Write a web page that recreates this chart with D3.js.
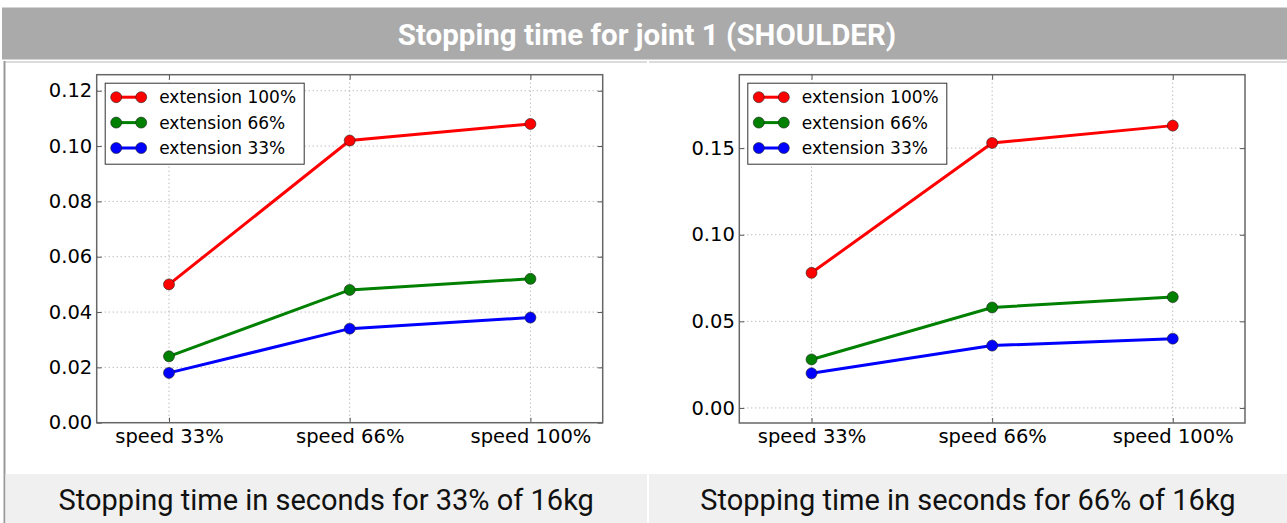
<!DOCTYPE html>
<html><head><meta charset="utf-8">
<script src="https://cdn.jsdelivr.net/npm/d3@7"></script>
<style>
html,body{margin:0;padding:0;background:#fff;}
svg{display:block;}
</style></head>
<body>
<svg id="chart" width="1287" height="523"></svg>
<script>
const title = "Stopping time for joint 1 (SHOULDER)";
const categories = ["speed 33%", "speed 66%", "speed 100%"];
const seriesNames = ["extension 100%", "extension 66%", "extension 33%"];
const seriesColors = ["#ff0000", "#008000", "#0000ff"];
// Left panel: 33% of 16kg
const leftExt100 = [0.050, 0.102, 0.108];
const leftExt66  = [0.024, 0.048, 0.052];
const leftExt33  = [0.018, 0.034, 0.038];
const leftTicks  = [0.00, 0.02, 0.04, 0.06, 0.08, 0.10, 0.12];
const leftCaption = "Stopping time in seconds for 33% of 16kg";
// Right panel: 66% of 16kg
const rightExt100 = [0.078, 0.153, 0.163];
const rightExt66  = [0.028, 0.058, 0.064];
const rightExt33  = [0.020, 0.036, 0.040];
const rightTicks  = [0.00, 0.05, 0.10, 0.15];
const rightCaption = "Stopping time in seconds for 66% of 16kg";

const svg = d3.select("#chart");

// Title bar
svg.append("rect").attr("x", 2).attr("y", 7.5).attr("width", 1285).attr("height", 52).attr("fill", "#aaaaaa");
svg.append("text").attr("x", 647).attr("y", 45).attr("text-anchor", "middle")
  .attr("font-family", "Roboto").attr("font-weight", "bold").attr("font-size", 29.5)
  .attr("fill", "#ffffff").text(title);

// panel top lines and outer left border
svg.append("line").attr("x1", 4).attr("x2", 647).attr("y1", 62).attr("y2", 62).attr("stroke", "#d0d0d0").attr("stroke-width", 1.5);
svg.append("line").attr("x1", 649).attr("x2", 1287).attr("y1", 62).attr("y2", 62).attr("stroke", "#d0d0d0").attr("stroke-width", 1.5);
svg.append("line").attr("x1", 4.5).attr("x2", 4.5).attr("y1", 61).attr("y2", 523).attr("stroke", "#999999").attr("stroke-width", 2);

function panel(opts) {
  const g = svg.append("g");
  const {x0, x1, y0, y1, yDomain, ticks, tickFmt, series, caption, capX0, capX1} = opts;
  const x = d3.scaleLinear().domain([-0.4, 2.4]).range([x0, x1]);
  const y = d3.scaleLinear().domain(yDomain).range([y1, y0]);

  // grid
  g.append("g").selectAll("line").data(ticks).join("line")
    .attr("x1", x0).attr("x2", x1).attr("y1", d => y(d)).attr("y2", d => y(d))
    .attr("stroke", "#a0a0a0").attr("stroke-width", 1).attr("stroke-dasharray", "1,3");
  g.append("g").selectAll("line").data(categories.map((c, i) => i)).join("line")
    .attr("y1", y0).attr("y2", y1).attr("x1", d => x(d)).attr("x2", d => x(d))
    .attr("stroke", "#a0a0a0").attr("stroke-width", 1).attr("stroke-dasharray", "1,3");

  // axes
  const yAxisL = d3.axisLeft(y).tickValues(ticks).tickFormat(tickFmt).tickSizeInner(-5).tickSizeOuter(0).tickPadding(4.5);
  const yAxisR = d3.axisRight(y).tickValues(ticks).tickFormat("").tickSizeInner(-5).tickSizeOuter(0);
  const xAxisB = d3.axisBottom(x).tickValues([0, 1, 2]).tickFormat(i => categories[i]).tickSizeInner(-5).tickSizeOuter(0).tickPadding(6.5);
  const xAxisT = d3.axisTop(x).tickValues([0, 1, 2]).tickFormat("").tickSizeInner(-5).tickSizeOuter(0);
  const styleAxis = sel => {
    sel.select(".domain").remove();
    sel.selectAll(".tick line").attr("stroke", "#555").attr("stroke-width", 1);
    sel.selectAll(".tick text").attr("font-family", "DejaVu Sans").attr("font-size", 19.5).attr("fill", "#000");
  };
  g.append("g").attr("transform", `translate(${x0},0)`).call(yAxisL).call(styleAxis);
  g.append("g").attr("transform", `translate(${x1},0)`).call(yAxisR).call(styleAxis);
  g.append("g").attr("transform", `translate(0,${y1})`).call(xAxisB).call(styleAxis);
  g.append("g").attr("transform", `translate(0,${y0})`).call(xAxisT).call(styleAxis);

  // frame
  g.append("rect").attr("x", x0).attr("y", y0).attr("width", x1 - x0).attr("height", y1 - y0)
    .attr("fill", "none").attr("stroke", "#666").attr("stroke-width", 1.5);

  // series
  const line = d3.line().x((d, i) => x(i)).y(d => y(d));
  series.forEach((s, k) => {
    g.append("path").datum(s).attr("d", line).attr("fill", "none")
      .attr("stroke", seriesColors[k]).attr("stroke-width", 3);
  });
  series.forEach((s, k) => {
    g.append("g").selectAll("circle").data(s).join("circle")
      .attr("cx", (d, i) => x(i)).attr("cy", d => y(d)).attr("r", 5.5)
      .attr("fill", seriesColors[k]).attr("stroke", "#222").attr("stroke-width", 0.6);
  });

  // legend
  const lx = x0 + 8.5, ly = y0 + 8.5;
  g.append("rect").attr("x", lx).attr("y", ly).attr("width", 199).attr("height", 81)
    .attr("fill", "#fff").attr("stroke", "#333").attr("stroke-width", 1);
  seriesNames.forEach((name, k) => {
    const cy = ly + 14 + k * 25.4;
    g.append("line").attr("x1", lx + 11).attr("x2", lx + 36).attr("y1", cy).attr("y2", cy)
      .attr("stroke", seriesColors[k]).attr("stroke-width", 3);
    [lx + 11, lx + 36].forEach(cx => g.append("circle").attr("cx", cx).attr("cy", cy).attr("r", 5.5)
      .attr("fill", seriesColors[k]).attr("stroke", "#222").attr("stroke-width", 0.6));
    g.append("text").attr("x", lx + 54).attr("y", cy + 6).attr("font-family", "DejaVu Sans")
      .attr("font-size", 17).attr("fill", "#000").text(name);
  });

  // caption
  g.append("rect").attr("x", capX0).attr("y", 474).attr("width", capX1 - capX0).attr("height", 49).attr("fill", "#eff0ef");
  g.append("text").attr("x", (capX0 + capX1) / 2).attr("y", 510).attr("text-anchor", "middle")
    .attr("font-family", "Roboto").attr("font-size", 29).attr("fill", "#111").text(caption);
}

const fmt2 = d3.format(".2f");
panel({x0: 96.7, x1: 602.7, y0: 74.7, y1: 422.7, yDomain: [0, 0.1258], ticks: leftTicks, tickFmt: fmt2,
  series: [leftExt100, leftExt66, leftExt33], caption: leftCaption, capX0: 5.5, capX1: 647});
panel({x0: 739.3, x1: 1245, y0: 74.7, y1: 423, yDomain: [-0.0087, 0.1924], ticks: rightTicks, tickFmt: fmt2,
  series: [rightExt100, rightExt66, rightExt33], caption: rightCaption, capX0: 649, capX1: 1287});
</script>
</body></html>
